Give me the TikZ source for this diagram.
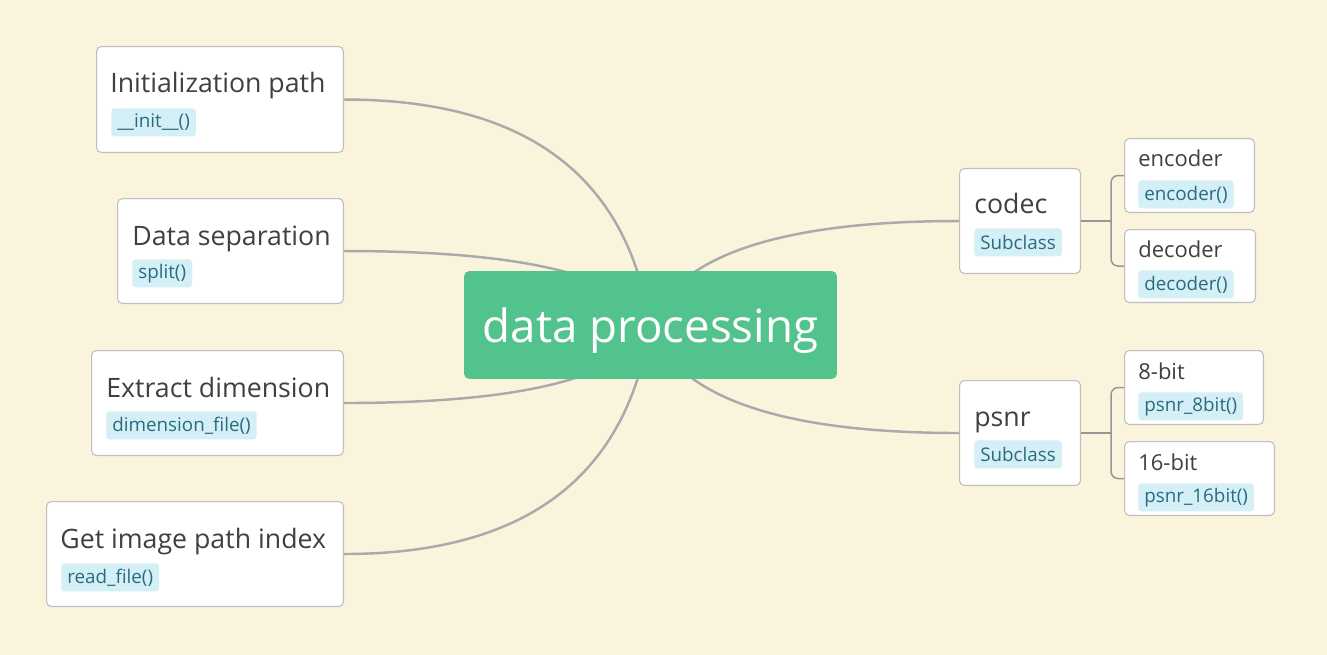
\documentclass[tikz,border=0pt]{standalone}
\usepackage{fontspec}
\setmainfont{Open Sans}
\usetikzlibrary{calc, positioning}

\definecolor{paper}{RGB}{251,244,221}
\definecolor{boxline}{RGB}{190,190,190}
\definecolor{branchline}{RGB}{170,170,170}
\definecolor{bracketline}{RGB}{150,150,150}
\definecolor{titletext}{RGB}{64,64,64}
\definecolor{tagfill}{RGB}{213,239,246}
\definecolor{tagtext}{RGB}{40,108,128}
\definecolor{rootgreen}{RGB}{82,195,140}

\tikzset{
	topic/.style={draw=boxline, fill=white, line width=0.6pt, rounded corners=2.8pt, anchor=north west, inner sep=0pt},
	title/.style={anchor=base west, inner sep=0pt, text=titletext, font=\fontsize{15.2}{18}\selectfont},
	subtitle/.style={title, font=\fontsize{12.5}{15}\selectfont},
	tag/.style={anchor=north west, fill=tagfill, text=tagtext, rounded corners=1.8pt, minimum height=0.56cm, inner xsep=3.4pt, inner ysep=0pt, font=\fontsize{10.7}{12}\selectfont},
	root/.style={fill=rootgreen, text=white, rounded corners=3pt, minimum width=7.46cm, minimum height=2.16cm, text height=26.6pt, text depth=6.2pt, font=\fontsize{26}{30}\selectfont},
	branch/.style={draw=branchline, line width=1.4pt},
	bracket/.style={draw=bracketline, line width=0.85pt, rounded corners=4pt},
}

\begin{document}
\begin{tikzpicture}[x=0.02cm, y=-0.02cm]
	\useasboundingbox[fill=paper] (0,0) rectangle (1327,655);

	% left topics
	\node (init) [topic, minimum width=4.94cm, minimum height=2.12cm] at (96,46) {};
	\node (init_title) [title] at ($(init.north west)+(14,47)$) {Initialization path};
	\node (init_tag) [tag] at ($(init.north west)+(15,62)$) {\_\_init\_\_()};

	\node (split) [topic, minimum width=4.52cm, minimum height=2.10cm] at (117,198) {};
	\node (split_title) [title] at ($(split.north west)+(15,47)$) {Data separation};
	\node (split_tag) [tag] at ($(split.north west)+(15,61)$) {split()};

	\node (dim) [topic, minimum width=5.04cm, minimum height=2.10cm] at (91,350) {};
	\node (dim_title) [title] at ($(dim.north west)+(15,47)$) {Extract dimension};
	\node (dim_tag) [tag] at ($(dim.north west)+(15,61)$) {dimension\_file()};

	\node (read) [topic, minimum width=5.94cm, minimum height=2.10cm] at (46,501) {};
	\node (read_title) [title] at ($(read.north west)+(14,47)$) {Get image path index};
	\node (read_tag) [tag] at ($(read.north west)+(15,62)$) {read\_file()};

	% right topics
	\node (codec) [topic, minimum width=2.42cm, minimum height=2.10cm] at (959,168) {};
	\node (codec_title) [title] at ($(codec.north west)+(15,46)$) {codec};
	\node (codec_tag) [tag] at ($(codec.north west)+(15,60)$) {Subclass};

	\node (psnr) [topic, minimum width=2.42cm, minimum height=2.10cm] at (959,380) {};
	\node (psnr_title) [title] at ($(psnr.north west)+(15,46)$) {psnr};
	\node (psnr_tag) [tag] at ($(psnr.north west)+(15,60)$) {Subclass};

	% subtopics
	\node (encoder) [topic, minimum width=2.60cm, minimum height=1.48cm] at (1124,138) {};
	\node (encoder_title) [subtitle] at ($(encoder.north west)+(14,29)$) {encoder};
	\node (encoder_tag) [tag] at ($(encoder.north west)+(14,42)$) {encoder()};

	\node (decoder) [topic, minimum width=2.62cm, minimum height=1.46cm] at (1124,229) {};
	\node (decoder_title) [subtitle] at ($(decoder.north west)+(14,28)$) {decoder};
	\node (decoder_tag) [tag] at ($(decoder.north west)+(14,41)$) {decoder()};

	\node (bit8) [topic, minimum width=2.78cm, minimum height=1.48cm] at (1124,350) {};
	\node (bit8_title) [subtitle] at ($(bit8.north west)+(14,29)$) {8-bit};
	\node (bit8_tag) [tag] at ($(bit8.north west)+(14,42)$) {psnr\_8bit()};

	\node (bit16) [topic, minimum width=3.00cm, minimum height=1.48cm] at (1124,441) {};
	\node (bit16_title) [subtitle] at ($(bit16.north west)+(14,29)$) {16-bit};
	\node (bit16_tag) [tag] at ($(bit16.north west)+(14,42)$) {psnr\_16bit()};

	% curved branches to the centre
	\coordinate (hub) at (650,325);
	\coordinate (bendL) at (615,325);
	\coordinate (bendR) at (690,325);
	\foreach \b in {init,split,dim,read}
		\draw [branch] (\b.east) .. controls ($(\b.east)!2/3!(\b.east -| bendL)$) and ($(hub)!2/3!(\b.east -| bendL)$) .. (hub);
	\foreach \b in {codec,psnr}
		\draw [branch] (\b.west) .. controls ($(\b.west)!2/3!(\b.west -| bendR)$) and ($(hub)!2/3!(\b.west -| bendR)$) .. (hub);

	% brackets
	\coordinate (codec_fork) at ($(codec.east)+(30,0)$);
	\draw [bracket] (codec.east) -- (codec_fork);
	\draw [bracket] (encoder.west) -| (codec_fork) |- (decoder.west);
	\coordinate (psnr_fork) at ($(psnr.east)+(30,0)$);
	\draw [bracket] (psnr.east) -- (psnr_fork);
	\draw [bracket] (bit8.west) -| (psnr_fork) |- (bit16.west);

	\node (root) [root] at (650.5,325) {data processing};
\end{tikzpicture}
\end{document}
